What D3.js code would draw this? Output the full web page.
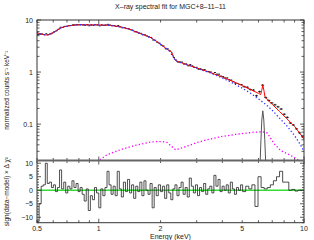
<!DOCTYPE html>
<html>
<head>
<meta charset="utf-8">
<title>X-ray spectral fit</title>
<script src="https://d3js.org/d3.v7.min.js"></script>
<style>
    body { margin: 0; background: #fff; }
    text { font-family: "Liberation Sans", Arial, sans-serif; fill: #222; }
</style>
</head>
<body>
<div id="chart"></div>
<script type="text/javascript">
    // energy bin edges (keV) shared by the data points and the residuals
    const binEdges = [0.500,0.512,0.524,0.536,0.549,0.561,0.574,0.588,0.601,0.615,
        0.629,0.644,0.659,0.675,0.690,0.706,0.723,0.740,0.757,0.775,
        0.793,0.811,0.830,0.849,0.869,0.889,0.910,0.931,0.953,0.975,
        1.000,1.023,1.047,1.072,1.097,1.122,1.148,1.175,1.202,1.230,
        1.259,1.288,1.318,1.349,1.380,1.413,1.445,1.479,1.514,1.549,
        1.585,1.622,1.660,1.698,1.738,1.778,1.820,1.862,1.905,1.950,
        2.000,2.046,2.094,2.143,2.193,2.244,2.296,2.350,2.404,2.460,
        2.518,2.576,2.636,2.698,2.761,2.825,2.891,2.958,3.027,3.098,
        3.170,3.244,3.319,3.396,3.475,3.556,3.639,3.724,3.811,3.899,
        3.990,4.083,4.178,4.276,4.375,4.477,4.581,4.688,4.797,4.909,
        5.023,5.200,5.383,5.572,5.768,5.970,6.180,6.397,6.622,6.854,
        7.095,7.344,7.602,7.870,8.146,8.432,8.728,9.035,9.352,9.681,10.0];

    // observed normalized counts per bin
    const dataVals = [5.24,5.32,5.38,5.26,5.45,5.26,5.45,5.63,5.97,6.18,
        6.64,7.26,7.22,7.55,7.53,7.79,7.84,8.07,8.03,8.17,
        8.08,8.15,8.03,7.91,8.12,7.74,7.99,7.91,8.12,8.01,
        7.73,8.02,7.88,8.0,8.25,8.0,7.75,7.77,7.5,7.82,
        7.4,7.09,7.15,6.83,6.84,6.51,6.38,5.94,5.93,5.63,
        5.55,5.19,5.18,4.93,4.74,4.63,4.13,4.07,3.75,3.6,
        3.29,3.15,2.8,2.78,2.54,2.2,1.91,1.7,1.56,1.56,
        1.55,1.43,1.43,1.32,1.39,1.31,1.23,1.23,1.14,1.15,
        1.1,1.11,1.03,1.02,1.0,0.94,0.98,0.91,0.91,0.835,
        0.815,0.77,0.77,0.71,0.70,0.655,0.61,0.605,0.58,0.575,
        0.525,0.51,0.462,0.45,0.35,0.42,0.56,0.325,0.285,0.255,
        0.235,0.215,0.195,0.155,0.135,0.105,0.096,0.081,0.068,0.057];

    // sign(data-model) x delta chi^2 per bin
    const resid = [-11.5,-5,1.5,2,10,2.5,3,1,2,-0.5,
        1,7.5,0.5,3,-1,1.5,0.5,3.5,1,2.5,
        -0.5,1,-1.5,-4,0.5,-7.5,-2,-3.5,1,-1,
        -6.5,0.5,-2,1,7,2,-1.5,1.5,-2,7,
        0.5,-2.5,3,-0.5,4,-1,2,-3,1.5,-0.5,
        3,-2,3.5,0,-1.5,2.5,-6.5,1,-2,2,
        -0.5,1.5,-3,2,-1,-3.5,0.5,2,-2,1,
        3,-1.5,1,-2.5,4.5,1.5,-1,2,-2,1,
        -0.5,2.5,-1.5,0.5,1.5,-1,5.5,1.5,4,-0.5,
        1.5,0,2,-1,3,0.5,-1.5,1,0,2,
        -0.5,1.5,0.5,2,-6,5,1,0.5,1,2,
        3.5,5,7,3,3,0,0.3,-0.3,0,0];

    // relative error bar size per energy band [from, to, fraction]
    const errBands = [[0.5, 2, 0.012], [2, 5, 0.02], [5, 10.1, 0.045]];

    // total model (red)
    const modelE = [0.5,0.52,0.547,0.57,0.59,0.62,0.647,0.68,0.724,0.8,0.9,1.0,1.14,1.27,1.42,1.59,1.7,1.8,1.9,2.0,
        2.1,2.2,2.26,2.3,2.35,2.4,2.5,2.7,3.0,3.5,4.0,4.5,5.0,5.5,6.0,6.15,6.22,6.3,6.38,6.45,6.6,7.0,7.6,8.2,9.0,9.5,10];
    const modelV = [5.7,5.45,5.15,5.2,5.5,6.2,6.9,7.4,7.8,8.1,8.1,8.05,7.9,7.4,6.6,5.5,5.0,4.55,3.95,3.4,
        2.95,2.6,2.45,2.05,1.72,1.62,1.53,1.38,1.2,0.98,0.8,0.66,0.55,0.46,0.39,0.37,0.44,0.56,0.44,0.34,0.3,0.24,0.175,0.13,0.09,0.068,0.052];

    // continuum component (blue dotted)
    const contE = [0.5,0.52,0.547,0.57,0.59,0.62,0.647,0.68,0.724,0.8,0.9,1.0,1.14,1.27,1.42,1.59,1.7,1.8,1.9,2.0,
        2.1,2.2,2.26,2.3,2.35,2.4,2.5,2.7,3.0,3.5,4.0,4.5,5.0,5.5,6.0,6.5,7.0,7.6,8.2,9.0,9.5,10];
    const contV = [5.7,5.45,5.15,5.2,5.5,6.2,6.9,7.4,7.8,8.1,8.1,8.05,7.9,7.4,6.6,5.5,5.0,4.55,3.95,3.4,
        2.95,2.6,2.45,2.05,1.72,1.62,1.52,1.37,1.19,0.96,0.77,0.615,0.49,0.39,0.305,0.24,0.185,0.13,0.095,0.06,0.043,0.03];

    // reflection component (magenta dotted)
    const reflE = [0.98,1.1,1.3,1.5,1.78,1.9,2.05,2.16,2.25,2.37,2.6,3.0,3.3,4.0,4.7,5.7,6.3,6.63,7.15,7.7,8.3,8.94,9.64,10];
    const reflV = [0.019,0.026,0.033,0.039,0.045,0.046,0.046,0.044,0.038,0.032,0.036,0.044,0.049,0.058,0.064,0.070,0.071,0.0675,0.042,0.031,0.027,0.023,0.019,0.017];

    // Fe K line (thin grey)
    const lineE = [6.0,6.1,6.17,6.23,6.3,6.37,6.44,6.52,6.62];
    const lineV = [0.004,0.015,0.05,0.12,0.18,0.12,0.05,0.015,0.004];

    const xTicks = [0.5, 1, 2, 5, 10];
    const xTickLabels = ['0.5', '1', '2', '5', '10'];
    const yTopTicks = [0.1, 1, 10];
    const yTopLabels = ['0.1', '1', '10'];
    const yResTicks = [-10, -5, 0, 5, 10];
    const yResLabels = ['\u221210', '\u22125', '0', '5', '10'];

    const width = 314, height = 240;
    const pLeft = 37, pRight = 304, pTop = 20, pMid = 160.5, pBottom = 222.7;

    const x = d3.scaleLog().domain([0.5, 10]).range([pLeft, pRight]);
    const yTop = d3.scaleLog().domain([0.02, 10]).range([pMid, pTop]);
    const yRes = d3.scaleLinear().domain([-12, 11]).range([pBottom, pMid]);

    const svg = d3.select('#chart').append('svg')
        .attr('width', width).attr('height', height);

    const defs = svg.append('defs');
    defs.append('clipPath').attr('id', 'clipTop').append('rect')
        .attr('x', pLeft).attr('y', pTop).attr('width', pRight - pLeft).attr('height', pMid - pTop);
    defs.append('clipPath').attr('id', 'clipRes').append('rect')
        .attr('x', pLeft).attr('y', pMid).attr('width', pRight - pLeft).attr('height', pBottom - pMid);

    const topG = svg.append('g').attr('clip-path', 'url(#clipTop)');
    const resG = svg.append('g').attr('clip-path', 'url(#clipRes)');

    const lineTop = (es, vs) => d3.line().x(i => x(es[i])).y(i => yTop(vs[i]))(d3.range(es.length));

    // reflection, dotted magenta
    topG.append('path').attr('d', lineTop(reflE, reflV))
        .attr('fill', 'none').attr('stroke', '#f0f').attr('stroke-width', 1.3)
        .attr('stroke-dasharray', '1.3,2.2');

    // iron line
    topG.append('path').attr('d', lineTop(lineE, lineV))
        .attr('fill', 'none').attr('stroke', '#555').attr('stroke-width', 1);

    // data crosses
    const errFor = e => errBands.find(b => e >= b[0] && e < b[1])[2];
    const bins = d3.range(dataVals.length);
    const dataG = topG.append('g').attr('stroke', '#000').attr('stroke-width', 0.8);
    bins.forEach(i => {
        const e0 = binEdges[i], e1 = binEdges[i + 1];
        const c = Math.sqrt(e0 * e1);
        const v = dataVals[i], f = errFor(c);
        dataG.append('line')
            .attr('x1', x(e0)).attr('x2', x(e1))
            .attr('y1', yTop(v)).attr('y2', yTop(v));
        dataG.append('line')
            .attr('x1', x(c)).attr('x2', x(c))
            .attr('y1', yTop(v * (1 - f))).attr('y2', yTop(v * (1 + f)));
    });

    // total model
    topG.append('path').attr('d', lineTop(modelE, modelV))
        .attr('fill', 'none').attr('stroke', '#f00').attr('stroke-width', 1);

    // continuum, dotted blue
    topG.append('path').attr('d', lineTop(contE, contV))
        .attr('fill', 'none').attr('stroke', '#33f').attr('stroke-width', 1.3)
        .attr('stroke-dasharray', '1.3,2.2');

    // residuals: zero line then histogram
    resG.append('line')
        .attr('x1', pLeft).attr('x2', pRight)
        .attr('y1', yRes(0)).attr('y2', yRes(0))
        .attr('stroke', '#3d3').attr('stroke-width', 1.6);

    const stepPts = bins.map(i => [binEdges[i], resid[i]]);
    stepPts.push([binEdges[binEdges.length - 1], resid[resid.length - 1]]);
    resG.append('path')
        .attr('d', d3.line().x(d => x(d[0])).y(d => yRes(d[1])).curve(d3.curveStepAfter)(stepPts))
        .attr('fill', 'none').attr('stroke', '#222').attr('stroke-width', 0.8);

    // ticks
    const tickG = svg.append('g').attr('stroke', '#333').attr('stroke-width', 0.8);
    const isDecade = v => Math.abs(Math.log10(v) - Math.round(Math.log10(v))) < 1e-6;

    x.ticks().forEach(t => {
        const len = isDecade(t) ? 4 : 2.5;
        const px = x(t);
        [[pTop, 1], [pMid, -1], [pMid, 1], [pBottom, -1]].forEach(([y0, dir]) => {
            tickG.append('line').attr('x1', px).attr('x2', px)
                .attr('y1', y0).attr('y2', y0 + dir * len);
        });
    });

    yTop.ticks().forEach(t => {
        const len = isDecade(t) ? 4 : 2.5;
        const py = yTop(t);
        tickG.append('line').attr('x1', pLeft).attr('x2', pLeft + len).attr('y1', py).attr('y2', py);
        tickG.append('line').attr('x1', pRight).attr('x2', pRight - len).attr('y1', py).attr('y2', py);
    });

    yRes.ticks(23).forEach(t => {
        const len = t % 5 === 0 ? 4 : 2;
        const py = yRes(t);
        tickG.append('line').attr('x1', pLeft).attr('x2', pLeft + len).attr('y1', py).attr('y2', py);
        tickG.append('line').attr('x1', pRight).attr('x2', pRight - len).attr('y1', py).attr('y2', py);
    });

    // frame and panel separator
    svg.append('rect')
        .attr('x', pLeft).attr('y', pTop).attr('width', pRight - pLeft).attr('height', pBottom - pTop)
        .attr('fill', 'none').attr('stroke', '#333').attr('stroke-width', 1);
    svg.append('line')
        .attr('x1', pLeft).attr('x2', pRight).attr('y1', pMid).attr('y2', pMid)
        .attr('stroke', '#666').attr('stroke-width', 2);

    // tick labels
    const fs = 7;
    xTicks.forEach((t, i) => {
        svg.append('text').attr('x', x(t)).attr('y', 231)
            .attr('text-anchor', 'middle').attr('font-size', fs).text(xTickLabels[i]);
    });
    yTopTicks.forEach((t, i) => {
        svg.append('text').attr('x', pLeft - 4).attr('y', yTop(t) + 2.5)
            .attr('text-anchor', 'end').attr('font-size', fs).text(yTopLabels[i]);
    });
    yResTicks.forEach((t, i) => {
        svg.append('text').attr('x', pLeft - 4).attr('y', yRes(t) + 2.5)
            .attr('text-anchor', 'end').attr('font-size', fs).text(yResLabels[i]);
    });

    // titles
    svg.append('text').attr('x', (pLeft + pRight) / 2).attr('y', 9)
        .attr('text-anchor', 'middle').attr('font-size', fs)
        .text('X\u2013ray spectral fit for MGC+8\u201311\u201311');
    svg.append('text').attr('x', (pLeft + pRight) / 2).attr('y', 239)
        .attr('text-anchor', 'middle').attr('font-size', fs).text('Energy (keV)');
    svg.append('text')
        .attr('transform', `translate(9,${(pTop + pMid) / 2}) rotate(-90)`)
        .attr('text-anchor', 'middle').attr('font-size', 6.5)
        .text('normalized counts s\u207B\u00B9 keV\u207B\u00B9');
    svg.append('text')
        .attr('transform', `translate(9,${(pMid + pBottom) / 2}) rotate(-90)`)
        .attr('text-anchor', 'middle').attr('font-size', 6.5)
        .text('sign(data\u2212model) \u00D7 \u0394 \u03C7\u00B2');
</script>
</body>
</html>
